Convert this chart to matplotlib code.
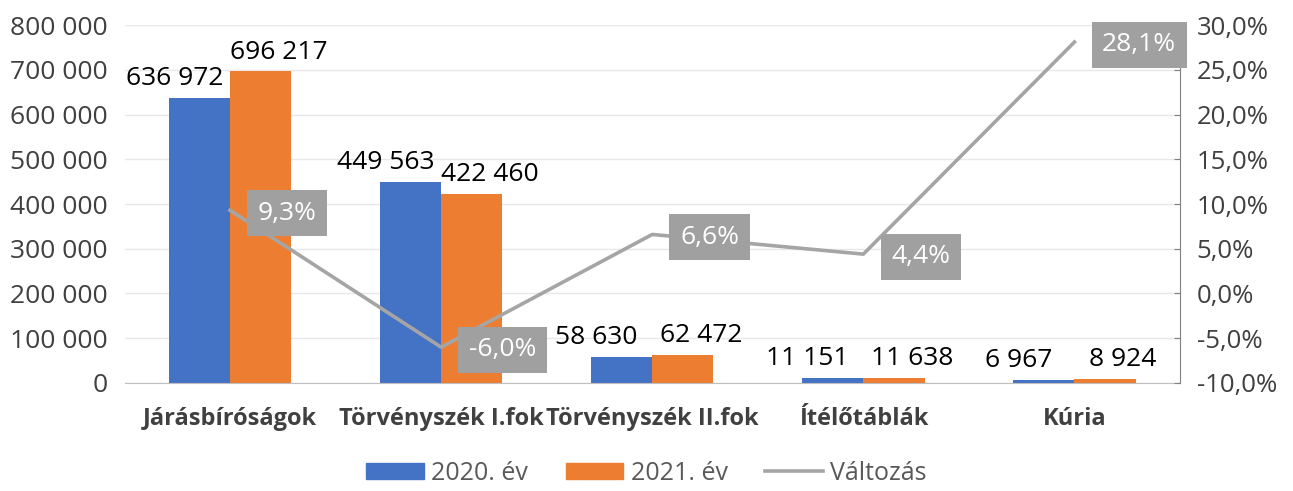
import matplotlib.pyplot as plt
from matplotlib.ticker import FuncFormatter
from matplotlib.lines import Line2D
from matplotlib.patches import Patch
import numpy as np

plt.rcParams['font.family'] = ['Open Sans', 'DejaVu Sans']

categories = ["Járásbíróságok", "Törvényszék I.fok", "Törvényszék II.fok", "Ítélőtáblák", "Kúria"]
v2020 = [636972, 449563, 58630, 11151, 6967]
v2021 = [696217, 422460, 62472, 11638, 8924]
change = [9.3, -6.0, 6.6, 4.4, 28.1]

blue = "#4472C4"
orange = "#ED7D31"
gray = "#A5A5A5"
txt = "#404040"

def huf(v):
    return f"{int(v):,}".replace(",", " ")

fig = plt.figure(figsize=(12.93, 4.91), dpi=100)
ax = fig.add_axes([0.0963, 0.22, 0.8163, 0.729])
ax2 = ax.twinx()

x = np.arange(len(categories))
w = 0.29
ax.bar(x - w / 2, v2020, w, color=blue, zorder=2)
ax.bar(x + w / 2, v2021, w, color=orange, zorder=2)

for i in range(len(x)):
    ax.annotate(huf(v2020[i]), (x[i] - w / 2, v2020[i]), xytext=(-18, 5),
                textcoords="offset points", ha="center", va="bottom", fontsize=19, color="black")
    ax.annotate(huf(v2021[i]), (x[i] + w / 2, v2021[i]), xytext=(13, 5),
                textcoords="offset points", ha="center", va="bottom", fontsize=19, color="black")

ax.set_xlim(-0.5, 4.5)
ax.set_ylim(0, 800000)
ax.set_yticks(np.arange(0, 800001, 100000))
ax.yaxis.set_major_formatter(FuncFormatter(lambda v, p: huf(v)))
ax.grid(axis="y", color="#E8E8E8", lw=1, zorder=0)
ax.set_axisbelow(True)
ax.set_xticks(x)
ax.set_xticklabels(categories, fontsize=17, fontweight="bold", color=txt)
ax.tick_params(axis="x", length=0, pad=17)
ax.tick_params(axis="y", length=0, labelsize=19, labelcolor=txt, pad=12)
for s in ["top", "left", "right"]:
    ax.spines[s].set_visible(False)
ax.spines["bottom"].set_color("#BFBFBF")

ax2.plot(x, change, color=gray, lw=2.6, zorder=3)
ax2.set_ylim(-10, 30)
ax2.set_yticks(np.arange(-10, 31, 5))
ax2.yaxis.set_major_formatter(FuncFormatter(lambda v, p: f"{v:.1f}%".replace(".", ",")))
ax2.tick_params(axis="y", labelsize=18.5, labelcolor=txt, length=4, color="#808080", direction="in", pad=12)
for s in ["top", "left", "bottom"]:
    ax2.spines[s].set_visible(False)
ax2.spines["right"].set_color("#808080")

for i in range(len(x)):
    ax2.annotate(f"{change[i]:.1f}%".replace(".", ","), (x[i], change[i]), xytext=(20, -2),
                 textcoords="offset points", ha="left", va="center", fontsize=19, color="white",
                 bbox=dict(boxstyle="square,pad=0.4", fc="#A0A0A0", ec="none"), zorder=5)

handles = [Patch(color=blue), Patch(color=orange), Line2D([], [], color=gray, lw=2.6)]
fig.legend(handles, ["2020. év", "2021. év", "Változás"], loc="lower center", ncol=3,
           bbox_to_anchor=(0.5, -0.035), frameon=False, fontsize=18, labelcolor="#595959",
           handlelength=2.3, handleheight=0.6, handletextpad=0.3, columnspacing=1.5)

fig.savefig("out.png", dpi=100)
